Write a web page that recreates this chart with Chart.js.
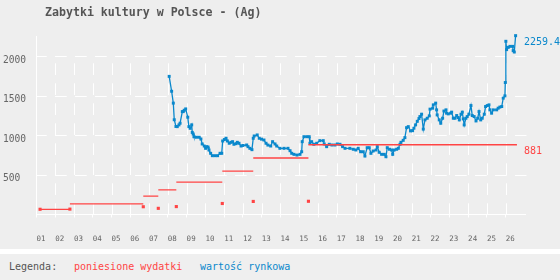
<!DOCTYPE html>
<html><head><meta charset="utf-8">
<script src="https://cdn.jsdelivr.net/npm/chart.js@4"></script>
<style>
html,body{margin:0;padding:0;background:#eeeeee;}
#wrap{position:relative;width:560px;height:280px;overflow:hidden;background:#eeeeee;font-family:"DejaVu Sans Mono",monospace;}
#title{position:absolute;left:45px;top:5px;font-size:11.6px;font-weight:bold;color:#555;line-height:14px;white-space:pre;}
#c{position:absolute;left:0;top:0;}
#band{position:absolute;left:0;top:249px;width:560px;height:5px;background:#ffffff;}
#legend{position:absolute;left:0;top:254px;width:560px;height:26px;background:#efefef;font-size:10px;line-height:12px;}
#legend span{position:absolute;top:7px;white-space:pre;}
</style></head>
<body>
<div id="wrap">
<canvas id="c" width="560" height="249"></canvas>
<div id="title">Zabytki kultury w Polsce - (Ag)</div>
<div id="band"></div>
<div id="legend"><span style="left:9px;color:#555">Legenda:</span><span style="left:74px;color:#ff4444">poniesione wydatki</span><span style="left:200px;color:#0a88cc">wartość rynkowa</span></div>
</div>
<script>
// ---- data ----
const xTickYears = [2001,2002,2003,2004,2005,2006,2007,2008,2009,2010,2011,2012,2013,2014,2015,2016,2017,2018,2019,2020,2021,2022,2023,2024,2025,2026];
const xTickLabels = ['01','02','03','04','05','06','07','08','09','10','11','12','13','14','15','16','17','18','19','20','21','22','23','24','25','26'];
const yTickValues = [500,1000,1500,2000];

// purchases (red squares) and cumulative spending (red steps)
const purchaseYears  = [2001.19, 2002.78, 2006.69, 2007.49, 2008.45, 2010.90, 2012.55, 2015.49];
const purchaseValues = [66, 68, 98, 78, 100, 139, 165, 167];
const spendingTotals = [66, 134, 232, 310, 410, 549, 714, 881];
const spendingEndYear = 2026.60;

// market value (blue)
const valueYears = [2008.07,2008.20,2008.29,2008.34,2008.43,2008.50,2008.59,2008.65,2008.77,2008.82,2008.87,2008.95,
2009.06,2009.12,2009.19,2009.27,2009.30,2009.35,2009.39,2009.52,2009.67,2009.76,2009.83,2009.94,
2010.01,2010.07,2010.14,2010.19,2010.28,2010.37,2010.51,2010.65,2010.78,2010.87,2010.92,
2011.01,2011.10,2011.17,2011.27,2011.36,2011.45,2011.52,2011.63,2011.70,2011.79,2011.90,
2012.00,2012.20,2012.27,2012.37,2012.48,2012.55,2012.60,2012.76,2012.87,2012.99,
2013.12,2013.23,2013.33,2013.48,2013.58,2013.71,2013.80,2013.97,
2014.19,2014.40,2014.51,2014.60,2014.72,2014.88,
2015.04,2015.13,2015.16,2015.25,2015.40,2015.53,2015.57,2015.66,2015.78,2015.93,
2016.10,2016.28,2016.33,2016.46,2016.60,2016.74,2016.90,
2017.03,2017.17,2017.31,2017.44,2017.70,2017.88,
2018.02,2018.14,2018.27,2018.41,2018.50,2018.62,2018.73,2018.82,2018.94,
2019.09,2019.16,2019.26,2019.39,2019.53,2019.62,2019.69,2019.81,2019.92,2019.98,
2020.06,2020.19,2020.28,2020.37,2020.42,2020.54,2020.63,2020.72,2020.81,2020.93,
2021.04,2021.11,2021.20,2021.29,2021.38,2021.43,2021.52,2021.61,2021.70,2021.82,2021.93,2021.97,
2022.11,2022.14,2022.27,2022.32,2022.35,2022.46,2022.54,2022.64,2022.71,2022.82,2022.85,2022.94,
2023.07,2023.12,2023.21,2023.30,2023.39,2023.47,2023.53,2023.62,2023.69,2023.74,2023.79,2023.88,2023.95,
2024.04,2024.15,2024.22,2024.32,2024.42,2024.51,2024.58,2024.67,2024.75,2024.86,2024.93,
2025.02,2025.11,2025.16,2025.25,2025.34,2025.52,2025.60,2025.69,2025.79,2025.87,2025.96,2025.98,
2026.01,2026.05,2026.14,2026.23,2026.37,2026.40,2026.46,2026.53];
const marketValues = [1745,1557,1407,1197,1112,1110,1132,1153,1300,1300,1317,1334,
1229,1110,1089,1132,1037,1017,983,976,976,954,891,865,
836,857,852,815,773,743,743,743,773,773,929,
947,963,929,900,912,920,887,895,912,900,865,
872,878,857,836,819,963,992,1005,963,952,
941,900,877,865,920,891,865,836,
836,836,806,773,760,751,
760,793,920,983,983,983,900,920,887,900,
933,933,891,857,887,878,878,
891,887,857,836,836,824,
815,836,793,793,739,844,844,773,802,
815,857,786,760,760,730,844,824,815,760,
815,824,836,887,912,937,971,1097,1110,1056,
1059,1090,1132,1177,1212,1237,1267,1079,1195,1216,1246,1331,
1343,1385,1407,1322,1258,1195,1153,1216,1307,1322,1280,1271,
1280,1293,1216,1216,1250,1225,1195,1267,1293,1208,1132,1216,1237,
1267,1376,1250,1237,1182,1216,1300,1195,1216,1267,1364,
1376,1385,1322,1280,1322,1322,1343,1357,1364,1470,1499,1667,
2188,2083,2112,2124,2124,2070,2053,2259.4];

// ---- build datasets ----
const RED = '#ff4444', BLUE = '#0a88cc';
const stepData = [];
for (let i = 0; i < purchaseYears.length; i++) {
  const end = i + 1 < purchaseYears.length ? purchaseYears[i + 1] : spendingEndYear;
  stepData.push({x: purchaseYears[i], y: spendingTotals[i]});
  stepData.push({x: end, y: spendingTotals[i]});
  stepData.push({x: end, y: null});
}
const squareData = purchaseYears.map((x, i) => ({x, y: purchaseValues[i]}));
const valueData = valueYears.map((x, i) => ({x, y: marketValues[i]}));

const gridPlugin = {
  id: 'customGrid',
  beforeDatasetsDraw(chart) {
    const {ctx, chartArea, scales} = chart;
    const xs = scales.x, ys = scales.y;
    ctx.save();
    ctx.strokeStyle = '#ffffff';
    ctx.lineWidth = 1;
    ctx.setLineDash([11.7, 8.3]);
    ctx.lineDashOffset = 1.5;
    yTickValues.forEach(v => {
      const py = Math.round(ys.getPixelForValue(v)) + 0.5;
      ctx.beginPath(); ctx.moveTo(chartArea.left, py); ctx.lineTo(chartArea.right + 1.5, py); ctx.stroke();
    });
    const topY = ys.getPixelForValue(yTickValues[yTickValues.length - 1]);
    ctx.lineDashOffset = 12.9;
    xTickYears.slice(1).forEach(v => {
      const px = Math.round(xs.getPixelForValue(v)) + 0.5;
      ctx.beginPath(); ctx.moveTo(px, topY); ctx.lineTo(px, chartArea.bottom); ctx.stroke();
    });
    ctx.restore();
  },
  afterDatasetsDraw(chart) {
    const {ctx, chartArea, scales} = chart;
    const ys = scales.y;
    ctx.save();
    ctx.font = '10px "DejaVu Sans Mono"';
    ctx.textAlign = 'left';
    ctx.textBaseline = 'middle';
    const lastV = marketValues[marketValues.length - 1];
    ctx.fillStyle = BLUE;
    ctx.fillText(String(lastV), chartArea.right - 1, ys.getPixelForValue(lastV) + 7);
    const lastS = spendingTotals[spendingTotals.length - 1];
    ctx.fillStyle = RED;
    ctx.fillText(String(lastS), chartArea.right - 1, ys.getPixelForValue(lastS) + 6.5);
    ctx.restore();
  }
};

new Chart(document.getElementById('c'), {
  type: 'line',
  data: {
    datasets: [
      {data: stepData, borderColor: RED, borderWidth: 1.3, pointRadius: 0, spanGaps: false, tension: 0, clip: false},
      {data: squareData, showLine: false, pointStyle: 'rect', pointRadius: 2.2, pointBackgroundColor: RED, pointBorderWidth: 0, borderColor: RED, clip: false},
      {data: valueData, borderColor: BLUE, borderWidth: 1.3, pointStyle: 'rect', pointRadius: 2.1, pointBackgroundColor: BLUE, pointBorderWidth: 0, tension: 0, clip: false}
    ]
  },
  options: {
    responsive: false,
    animation: false,
    devicePixelRatio: 1,
    layout: {padding: {left: 3, top: 36, right: 35, bottom: 0}},
    plugins: {legend: {display: false}, tooltip: {enabled: false}, title: {display: false}},
    scales: {
      x: {
        type: 'linear', min: 2001, max: 2027.03,
        afterBuildTicks: s => { s.ticks = xTickYears.map(v => ({value: v})); },
        afterFit: s => { s.height = 34.5; },
        ticks: {
          autoSkip: false, maxRotation: 0, labelOffset: 4.5, padding: 17,
          color: '#666', font: {family: '"DejaVu Sans Mono"', size: 7.5},
          callback: v => xTickLabels[xTickYears.indexOf(v)]
        },
        grid: {color: 'rgba(0,0,0,0)', tickColor: '#ffffff', tickLength: 3, drawOnChartArea: false},
        border: {display: true, color: '#ffffff', width: 1}
      },
      y: {
        min: 0, max: 2255,
        afterBuildTicks: s => { s.ticks = yTickValues.map(v => ({value: v})); },
        afterFit: s => { s.width = 33.5; },
        ticks: {
          crossAlign: 'far', labelOffset: 4, padding: 0,
          color: '#666', font: {family: '"DejaVu Sans Mono"', size: 9.6},
          callback: v => String(v)
        },
        grid: {color: 'rgba(0,0,0,0)', drawTicks: false},
        border: {display: true, color: '#ffffff', width: 1}
      }
    }
  },
  plugins: [gridPlugin]
});
</script>
</body></html>
